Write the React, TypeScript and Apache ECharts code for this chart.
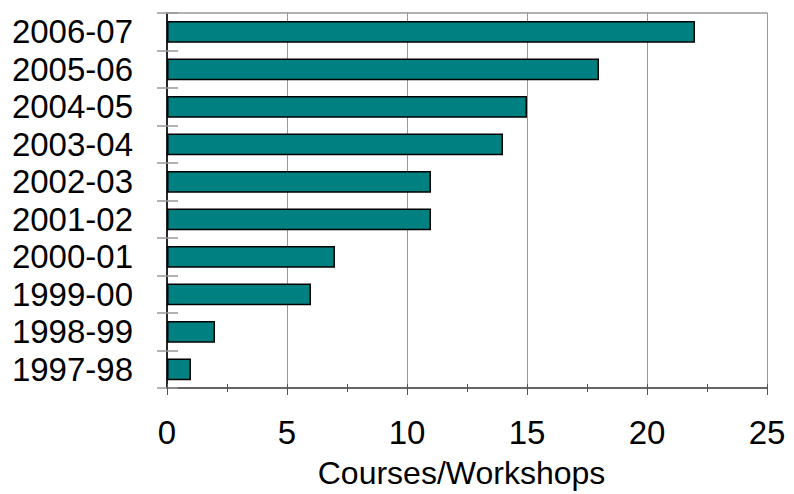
import React, { useEffect, useRef } from "react";
import * as echarts from "echarts";

const categories = ["1997-98", "1998-99", "1999-00", "2000-01", "2001-02", "2002-03", "2003-04", "2004-05", "2005-06", "2006-07"];
const values = [1, 2, 6, 7, 11, 11, 14, 15, 18, 22];
const xMin = 0;
const xMax = 25;
const xInterval = 5;
const xTitle = "Courses/Workshops";

const FONT = "'Liberation Sans', Arial, sans-serif";

export default function App() {
  const ref = useRef<HTMLDivElement>(null);
  useEffect(() => {
    if (!ref.current) return;
    const chart = echarts.init(ref.current, null, { renderer: "svg" });
    const baseX = { type: "value", min: xMin, max: xMax, interval: xInterval };
    chart.setOption({
      animation: false,
      backgroundColor: "#ffffff",
      grid: { left: 167, right: 27, top: 13, bottom: 100 },
      xAxis: [
        {
          ...baseX,
          position: "bottom",
          axisLine: { show: true, lineStyle: { color: "#333333", width: 1.5 } },
          axisTick: { show: true, inside: false, length: 7, lineStyle: { color: "#555555", width: 1 } },
          minorTick: { show: true, splitNumber: 2, length: 4, lineStyle: { color: "#555555", width: 1 } },
          splitLine: { show: true, lineStyle: { color: "#999999", width: 1 } },
          axisLabel: { show: true, fontSize: 33, color: "#000000", fontFamily: FONT, margin: 28 },
          name: xTitle,
          nameLocation: "middle",
          nameGap: 69,
          nameTextStyle: { fontSize: 32, color: "#000000", fontFamily: FONT, padding: [0, 11, 0, 0] },
        },
        {
          ...baseX,
          position: "bottom",
          axisLine: { show: false },
          axisTick: { show: true, inside: true, length: 4, lineStyle: { color: "#555555", width: 1 } },
          minorTick: { show: true, splitNumber: 2, length: 4, lineStyle: { color: "#555555", width: 1 } },
          splitLine: { show: false },
          axisLabel: { show: false },
        },
        {
          ...baseX,
          position: "top",
          axisLine: { show: true, lineStyle: { color: "#999999", width: 1.5 } },
          axisTick: { show: false },
          minorTick: { show: false },
          splitLine: { show: false },
          axisLabel: { show: false },
        },
      ],
      yAxis: [
        {
          type: "category",
          data: categories,
          position: "left",
          axisLine: { show: true, lineStyle: { color: "#000000", width: 2 } },
          axisTick: { show: true, inside: false, length: 10, lineStyle: { color: "#999999", width: 1.5 } },
          axisLabel: { show: true, interval: 0, fontSize: 33, color: "#000000", fontFamily: FONT, margin: 34 },
          splitLine: { show: false },
        },
        {
          type: "category",
          data: categories,
          position: "left",
          axisLine: { show: false },
          axisTick: { show: true, inside: true, length: 11, lineStyle: { color: "#999999", width: 1.5 } },
          axisLabel: { show: false },
          splitLine: { show: false },
        },
        {
          type: "category",
          data: categories,
          position: "right",
          axisLine: { show: true, lineStyle: { color: "#333333", width: 1.5 } },
          axisTick: { show: false },
          axisLabel: { show: false },
          splitLine: { show: false },
        },
      ],
      series: [
        {
          type: "bar",
          xAxisIndex: 0,
          yAxisIndex: 0,
          data: values,
          barWidth: "58%",
          itemStyle: { color: "#008080", borderColor: "#000000", borderWidth: 1.5 },
        },
      ],
    });
    return () => chart.dispose();
  }, []);
  return <div ref={ref} style={{ position: "fixed", left: 0, top: 0, width: 794, height: 494 }} />;
}
